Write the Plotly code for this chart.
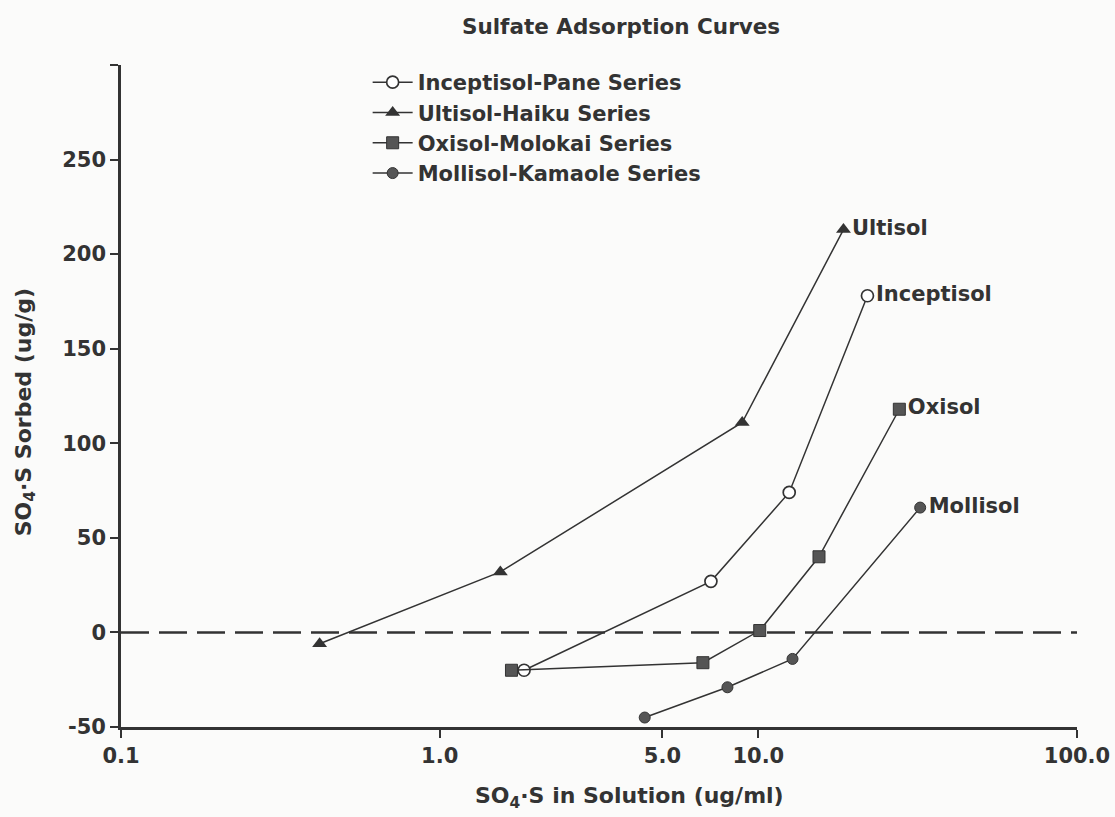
import plotly.graph_objects as go

# Sulfate adsorption isotherms for four Hawaiian soil series
series_names = ["Inceptisol-Pane Series", "Ultisol-Haiku Series",
                "Oxisol-Molokai Series", "Mollisol-Kamaole Series"]
end_labels = ["Inceptisol", "Ultisol", "Oxisol", "Mollisol"]

inceptisol_x = [1.84, 7.1, 12.5, 22.0]
inceptisol_y = [-20, 27, 74, 178]

ultisol_x = [0.42, 1.55, 8.9, 18.5]
ultisol_y = [-6, 32, 111, 213]

oxisol_x = [1.68, 6.7, 10.1, 15.5, 27.7]
oxisol_y = [-20, -16, 1, 40, 118]

mollisol_x = [4.4, 8.0, 12.8, 32.2]
mollisol_y = [-45, -29, -14, 66]

x_tickvals = [0.1, 1.0, 5.0, 10.0, 100.0]
x_ticktext = ["0.1", "1.0", "5.0", "10.0", "100.0"]
y_tickvals = [-50, 0, 50, 100, 150, 200, 250]
y_ticktext = ["-50", "0", "50", "100", "150", "200", "250"]

INK = "#333333"
BG = "#fbfbfa"
FONT = "DejaVu Sans, Verdana, sans-serif"
FS = 21

xs = [inceptisol_x, ultisol_x, oxisol_x, mollisol_x]
ys = [inceptisol_y, ultisol_y, oxisol_y, mollisol_y]
markers = [
    dict(symbol="circle", size=12, color="white", line=dict(color=INK, width=1.7)),
    dict(symbol="triangle-up", size=13, color=INK, line=dict(color=INK, width=0)),
    dict(symbol="square", size=12, color="#555555", line=dict(color=INK, width=1)),
    dict(symbol="circle", size=11, color="#555555", line=dict(color=INK, width=1)),
]

fig = go.Figure()

# zero reference line
fig.add_hline(y=0, line=dict(color=INK, width=2.6, dash="28px,10px"), layer="below")

for name, lab, x, y, mk in zip(series_names, end_labels, xs, ys, markers):
    fig.add_trace(go.Scatter(
        x=x, y=y, name=name,
        mode="lines+markers",
        line=dict(color=INK, width=1.5),
        marker=mk,
        cliponaxis=False,
    ))
    # series label beside the last point (transparent marker keeps the text clear of the symbol)
    fig.add_trace(go.Scatter(
        x=[x[-1]], y=[y[-1]], mode="markers+text", text=[lab],
        marker=dict(size=12, color="rgba(0,0,0,0)"),
        textposition="middle right", showlegend=False, hoverinfo="skip",
        textfont=dict(family=FONT, size=FS, color=INK, weight="bold"),
        cliponaxis=False,
    ))

fig.update_layout(
    width=1115, height=817,
    margin=dict(l=121, r=38, t=65, b=90, autoexpand=False),
    paper_bgcolor=BG, plot_bgcolor=BG,
    font=dict(family=FONT, color=INK, size=FS, weight="bold"),
    title=dict(text="Sulfate Adsorption Curves", x=0.557, xanchor="center",
               y=0.968, yanchor="middle",
               font=dict(family=FONT, size=21.5, color=INK, weight="bold")),
    legend=dict(x=0.258, y=1.0045, xanchor="left", yanchor="top",
                bgcolor="rgba(0,0,0,0)", tracegroupgap=0,
                font=dict(family=FONT, size=21, color=INK, weight="bold"),
                itemwidth=40),
    showlegend=True,
    annotations=[
        dict(text="SO<sub>4</sub>·S in Solution (ug/ml)", xref="paper", yref="paper",
             x=0.532, y=-0.106, xanchor="center", yanchor="middle", showarrow=False,
             font=dict(family=FONT, size=22, color=INK, weight="bold")),
        dict(text="SO<sub>4</sub>·S Sorbed (ug/g)", xref="paper", yref="paper",
             x=-0.1, y=0.476, xanchor="center", yanchor="middle", showarrow=False,
             textangle=-90,
             font=dict(family=FONT, size=22, color=INK, weight="bold")),
    ],
)

fig.update_xaxes(
    type="log", range=[-1, 2], automargin=False,
    tickvals=x_tickvals, ticktext=x_ticktext,
    showline=True, linecolor=INK, linewidth=2.6,
    ticks="outside", ticklen=8, tickwidth=2, tickcolor=INK,
    showgrid=False, zeroline=False,
    tickfont=dict(family=FONT, size=FS, color=INK, weight="bold"),
)
fig.update_yaxes(
    range=[-50, 300], automargin=False,
    tickvals=y_tickvals, ticktext=y_ticktext,
    showline=True, linecolor=INK, linewidth=2.6,
    ticks="outside", ticklen=8, tickwidth=2, tickcolor=INK,
    minor=dict(tickvals=[300], ticks="outside", ticklen=8, tickwidth=2, tickcolor=INK),
    showgrid=False, zeroline=False,
    tickfont=dict(family=FONT, size=FS, color=INK, weight="bold"),
)

fig.write_html("out.html")
